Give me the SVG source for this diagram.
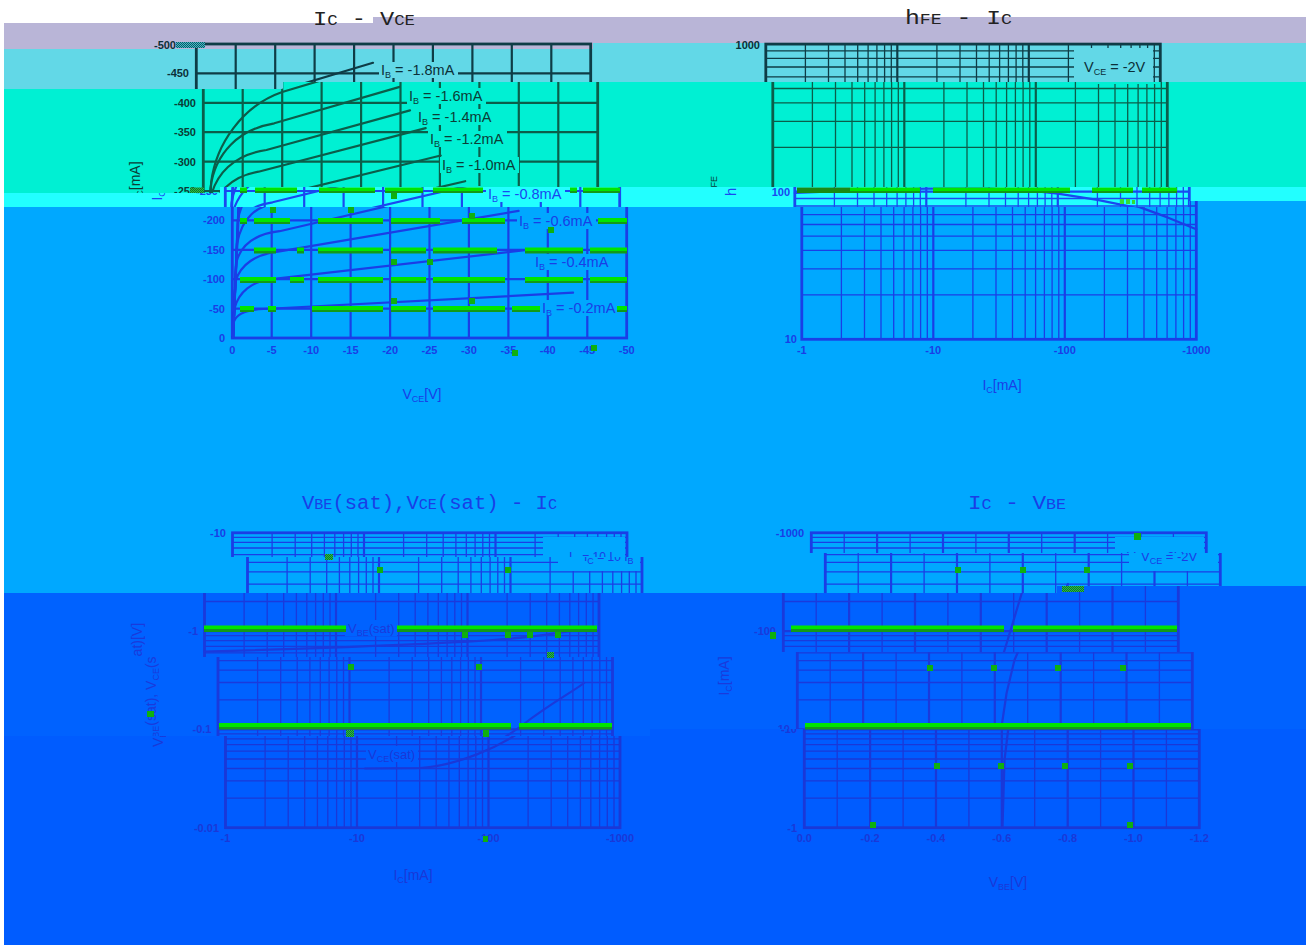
<svg xmlns="http://www.w3.org/2000/svg" width="1306" height="945" viewBox="0 0 1306 945">
<style>
.ln{fill:none;stroke:var(--ln)}
.mi{stroke-width:1.3}
.mj{stroke-width:2.2}
.fr{stroke-width:2.8}
.cv{fill:none;stroke:var(--ln);stroke-width:2.2;stroke-linejoin:round;stroke-linecap:round}
.tk{fill:var(--tx);font-family:'Liberation Sans',Arial,sans-serif;font-size:11px;font-weight:bold}
.lb{fill:var(--tx);font-family:'Liberation Sans',Arial,sans-serif;font-size:14.5px}
.lc{fill:var(--tx);font-family:'Liberation Sans',Arial,sans-serif;font-size:13px}
.ax{fill:var(--tx);font-family:'Liberation Sans',Arial,sans-serif;font-size:14px}
.bg{fill:var(--bg)}
.s{font-size:9px}
.e{text-anchor:end}
.m{text-anchor:middle}
.ttl{font-family:'Liberation Mono','DejaVu Sans Mono',monospace;font-size:20.5px}
.ts{font-size:15px}
.bT{--ln:#0e3c46;--tx:#0c2f38;--bg:#62d8e7}
.bQ{--ln:#0b5e4a;--tx:#0b3d36;--bg:#00f0d3}
.bC{--ln:#1a48f0;--tx:#1a48f0;--bg:#22ffff}
.bB{--ln:#1a3ee6;--tx:#1a3ee6;--bg:#00a8ff}
.bD{--ln:#1a3adc;--tx:#1a3adc;--bg:#0062ff}
.bE{--ln:#1a38d8;--tx:#1a38d8;--bg:#005cff}
.gb{fill:url(#gbar)}
.gs{fill:#0fb00f}
.ck{fill:url(#chk)}
</style>
<defs>
<linearGradient id="gbar" x1="0" y1="0" x2="0" y2="1">
<stop offset="0" stop-color="#00e600"/><stop offset="0.6" stop-color="#00e600"/><stop offset="0.6" stop-color="#139a18"/><stop offset="1" stop-color="#139a18"/>
</linearGradient>
<pattern id="chk" width="2" height="2" patternUnits="userSpaceOnUse"><rect width="2" height="2" fill="#30c830"/><rect width="1" height="1" fill="#0a6a40"/><rect x="1" y="1" width="1" height="1" fill="#0a6a40"/></pattern>
<pattern id="chk2" width="2" height="2" patternUnits="userSpaceOnUse"><rect width="2" height="2" fill="#4ab8c4"/><rect width="1" height="1" fill="#0a5a66"/><rect x="1" y="1" width="1" height="1" fill="#0a5a66"/></pattern>
<clipPath id="cU1"><polygon points="0,0 1306,0 1306,82 283,82 283,89 0,89"/></clipPath>
<clipPath id="cU2"><polygon points="0,89 283,89 283,82 1306,82 1306,187 220,187 220,193 0,193"/></clipPath>
<clipPath id="cU3"><polygon points="0,193 220,193 220,187 1306,187 1306,201 1189,201 1189,207 0,207"/></clipPath>
<clipPath id="cU4"><polygon points="0,207 1189,207 1189,201 1306,201 1306,470 0,470"/></clipPath>
<clipPath id="cLa"><rect x="0" y="470" width="660" height="87"/></clipPath>
<clipPath id="cLb"><rect x="0" y="557" width="660" height="36"/></clipPath>
<clipPath id="cLc"><rect x="0" y="593" width="660" height="64"/></clipPath>
<clipPath id="cLd"><rect x="0" y="657" width="660" height="79"/></clipPath>
<clipPath id="cLe"><rect x="0" y="736" width="660" height="209"/></clipPath>
<clipPath id="cRa"><rect x="660" y="470" width="646" height="83"/></clipPath>
<clipPath id="cRb"><polygon points="660,553 1306,553 1306,586 1057,586 1057,593 660,593"/></clipPath>
<clipPath id="cRc"><polygon points="660,593 1057,593 1057,586 1306,586 1306,652 660,652"/></clipPath>
<clipPath id="cRd"><rect x="660" y="652" width="646" height="77"/></clipPath>
<clipPath id="cRe"><rect x="660" y="729" width="646" height="216"/></clipPath>

<g id="c1">
<path class="ln mj" d="M271.7 44v294M311.2 44v294M350.6 44v294M390.1 44v294M429.5 44v294M468.9 44v294M508.4 44v294M547.8 44v294M587.3 44v294M232.3 308.6h394.4M232.3 279.2h394.4M232.3 249.8h394.4M232.3 220.4h394.4M232.3 191h394.4M232.3 161.6h394.4M232.3 132.2h394.4M232.3 102.8h394.4M232.3 73.4h394.4"/>
<rect class="ln fr" x="232.3" y="44" width="394.4" height="294"/>
<path class="cv" d="M233 338L233.9 321.5C237 313.3 246.5 309.5 263.9 309L573.1 292.7"/>
<path class="cv" d="M233 338L234.7 308C238.6 292.1 252 281 271.7 279.2L533.6 249.2"/>
<path class="cv" d="M233 338L235.5 281.6C240.2 264.5 256 253.9 279.6 251.4L518.6 210.9"/>
<path class="cv" d="M233 338L236.2 262.7C241 243.9 256 233.9 279.6 231.2L494.2 181.2"/>
<path class="cv" d="M233 338L237 243.9C241.8 217.5 256 205.7 279.6 202.3L469.7 155.5"/>
<path class="cv" d="M233 338L237.8 220.4C242.6 193.9 259.9 176.3 287.5 171.7L454.7 128.1"/>
<path class="cv" d="M233 338L238.6 202.8C243.3 173.4 263.9 154.5 295.4 150L439 110.4"/>
<path class="cv" d="M233 338L239.4 188.1C244.1 152.8 267.8 129.3 303.3 123.3L428.7 86.9"/>
<path class="cv" d="M233 338L240.2 182.2C244.9 144 271.7 105.7 311.2 92L409 62.8"/>
<rect class="bg" x="540" y="300" width="79" height="16"/>
<rect class="bg" x="533" y="254" width="79" height="16"/>
<rect class="bg" x="517" y="213" width="79" height="16"/>
<rect class="bg" x="493" y="186" width="79" height="16"/>
<rect class="bg" x="469" y="157" width="79" height="16"/>
<rect class="bg" x="457" y="131" width="79" height="16"/>
<rect class="bg" x="445" y="109" width="79" height="16"/>
<rect class="bg" x="436" y="88" width="79" height="16"/>
<rect class="bg" x="415" y="62" width="79" height="16"/>
<text class="lb" x="542" y="313">I<tspan class="s" dy="3">B</tspan><tspan dy="-3"> = -0.2mA</tspan></text>
<text class="lb" x="535" y="267">I<tspan class="s" dy="3">B</tspan><tspan dy="-3"> = -0.4mA</tspan></text>
<text class="lb" x="519" y="226">I<tspan class="s" dy="3">B</tspan><tspan dy="-3"> = -0.6mA</tspan></text>
<text class="lb" x="495" y="199">I<tspan class="s" dy="3">B</tspan><tspan dy="-3"> = -0.8mA</tspan></text>
<text class="lb" x="471" y="170">I<tspan class="s" dy="3">B</tspan><tspan dy="-3"> = -1.0mA</tspan></text>
<text class="lb" x="459" y="144">I<tspan class="s" dy="3">B</tspan><tspan dy="-3"> = -1.2mA</tspan></text>
<text class="lb" x="447" y="122">I<tspan class="s" dy="3">B</tspan><tspan dy="-3"> = -1.4mA</tspan></text>
<text class="lb" x="438" y="101">I<tspan class="s" dy="3">B</tspan><tspan dy="-3"> = -1.6mA</tspan></text>
<text class="lb" x="417" y="75">I<tspan class="s" dy="3">B</tspan><tspan dy="-3"> = -1.8mA</tspan></text>
<g class="tk e">
<text x="225" y="342">0</text><text x="225" y="312.6">-50</text><text x="225" y="283.2">-100</text><text x="225" y="253.8">-150</text><text x="225" y="224.4">-200</text><text x="225" y="195">-250</text><text x="225" y="165.6">-300</text><text x="225" y="136.2">-350</text><text x="225" y="106.8">-400</text><text x="225" y="77.4">-450</text>
</g>
<g class="tk m">
<text x="232.3" y="354">0</text><text x="271.7" y="354">-5</text><text x="311.2" y="354">-10</text><text x="350.6" y="354">-15</text><text x="390.1" y="354">-20</text><text x="429.5" y="354">-25</text><text x="468.9" y="354">-30</text><text x="508.4" y="354">-35</text><text x="547.8" y="354">-40</text><text x="587.3" y="354">-45</text><text x="626.7" y="354">-50</text>
</g>
<text class="ax m" x="422" y="399">V<tspan class="s" dy="3">CE</tspan><tspan dy="-3">[V]</tspan></text>
<text class="ax m" transform="translate(169,181) rotate(-90)">I<tspan class="s" dy="3">C</tspan><tspan dy="-3">[mA]</tspan></text>
</g>

<g id="c2">
<path class="ln mi" d="M841.4 44.1v295.2M864.5 44.1v295.2M881 44.1v295.2M893.7 44.1v295.2M904.1 44.1v295.2M912.9 44.1v295.2M920.6 44.1v295.2M927.3 44.1v295.2M972.9 44.1v295.2M996 44.1v295.2M1012.5 44.1v295.2M1025.2 44.1v295.2M1035.6 44.1v295.2M1044.4 44.1v295.2M1052.1 44.1v295.2M1058.8 44.1v295.2M1104.4 44.1v295.2M1127.5 44.1v295.2M1144 44.1v295.2M1156.7 44.1v295.2M1167.1 44.1v295.2M1175.9 44.1v295.2M1183.6 44.1v295.2M1190.3 44.1v295.2M801.8 294.9h394.5M801.8 268.9h394.5M801.8 250.4h394.5M801.8 236.1h394.5M801.8 224.5h394.5M801.8 214.6h394.5M801.8 206h394.5M801.8 198.5h394.5M801.8 147.3h394.5M801.8 121.3h394.5M801.8 102.8h394.5M801.8 88.5h394.5M801.8 76.9h394.5M801.8 67h394.5M801.8 58.4h394.5M801.8 50.9h394.5"/>
<path class="ln mj" d="M933.3 44.1v295.2M1064.8 44.1v295.2M801.8 191.7h394.5"/>
<rect class="ln fr" x="801.8" y="44.1" width="394.5" height="295.2"/>
<polyline class="cv" points="801.8,193 864.5,190.4 933.3,188.6 996,188.6 1035.6,190.4 1064.8,193.7 1104.4,199.9 1138.9,206.9 1167.6,217.4 1196.3,229.3"/>
<rect class="bg" x="1110" y="48" width="79" height="36"/>
<text class="lb" x="1120" y="71.5">V<tspan class="s" dy="3">CE</tspan><tspan dy="-3"> = -2V</tspan></text>
<g class="tk e"><text x="797" y="343.3">10</text><text x="797" y="195.7">100</text></g>
<g class="tk m"><text x="801.8" y="354">-1</text><text x="933.3" y="354">-10</text><text x="1064.8" y="354">-100</text><text x="1196.3" y="354">-1000</text></g>
<text class="ax m" x="1002" y="390">I<tspan class="s" dy="3">C</tspan><tspan dy="-3">[mA]</tspan></text>
<text class="ax m" transform="translate(743,186) rotate(-90)" style="font-size:15px">h<tspan class="s" dy="3">FE</tspan></text>
</g>

<g id="c3">
<path class="ln mi" d="M265.1 532.8v294.9M288.2 532.8v294.9M304.7 532.8v294.9M317.4 532.8v294.9M327.8 532.8v294.9M336.6 532.8v294.9M344.3 532.8v294.9M351 532.8v294.9M396.6 532.8v294.9M419.7 532.8v294.9M436.2 532.8v294.9M448.9 532.8v294.9M459.3 532.8v294.9M468.1 532.8v294.9M475.8 532.8v294.9M482.5 532.8v294.9M528.1 532.8v294.9M551.2 532.8v294.9M567.7 532.8v294.9M580.4 532.8v294.9M590.8 532.8v294.9M599.6 532.8v294.9M607.3 532.8v294.9M614 532.8v294.9M225.5 798.1h394.5M225.5 780.8h394.5M225.5 768.5h394.5M225.5 759h394.5M225.5 751.2h394.5M225.5 744.6h394.5M225.5 738.9h394.5M225.5 733.9h394.5M225.5 699.8h394.5M225.5 682.5h394.5M225.5 670.2h394.5M225.5 660.7h394.5M225.5 652.9h394.5M225.5 646.3h394.5M225.5 640.6h394.5M225.5 635.6h394.5M225.5 601.5h394.5M225.5 584.2h394.5M225.5 571.9h394.5M225.5 562.4h394.5M225.5 554.6h394.5M225.5 548h394.5M225.5 542.3h394.5M225.5 537.3h394.5"/>
<path class="ln mj" d="M357 532.8v294.9M488.5 532.8v294.9M225.5 729.4h394.5M225.5 631.1h394.5"/>
<rect class="ln fr" x="225.5" y="532.8" width="394.5" height="294.9"/>
<path class="cv" d="M225.5 651.5C300 649.5 420 645.5 488.5 641.7S570 634 590.8 631.1"/>
<path class="cv" d="M365 768.5L420 768C455 766 500 748 530 725S580 692 591.5 683"/>
<rect class="bg" x="366" y="620" width="52" height="16"/>
<text class="lc" x="369" y="633">V<tspan class="s" dy="3">BE</tspan><tspan dy="-3">(sat)</tspan></text>
<rect class="bg" x="366" y="746" width="52" height="16"/>
<text class="lc" x="368" y="759">V<tspan class="s" dy="3">CE</tspan><tspan dy="-3">(sat)</tspan></text>
<rect class="bg" x="536" y="537" width="82" height="34"/>
<text class="lc" x="562" y="561" style="font-size:12px">I<tspan class="s" dy="3">C</tspan><tspan dy="-3"> = 10 I</tspan><tspan class="s" dy="3">B</tspan></text>
<g class="tk e"><text x="219" y="536.8">-10</text><text x="219" y="635.1">-1</text><text x="219" y="733.4">-0.1</text><text x="219" y="831.7">-0.01</text></g>
<g class="tk m"><text x="225.5" y="842">-1</text><text x="357" y="842">-10</text><text x="488.5" y="842">-100</text><text x="620" y="842">-1000</text></g>
<text class="ax m" x="413" y="880">I<tspan class="s" dy="3">C</tspan><tspan dy="-3">[mA]</tspan></text>
<text class="ax m" transform="translate(163,685) rotate(-90)">V<tspan class="s" dy="3">BE</tspan><tspan dy="-3">(sat), V</tspan><tspan class="s" dy="3">CE</tspan><tspan dy="-3">(sat)[V]</tspan></text>
</g>

<g id="c4">
<path class="ln mi" d="M837.2 532.8v294.9M903.1 532.8v294.9M968.9 532.8v294.9M1034.7 532.8v294.9M1100.6 532.8v294.9M1166.4 532.8v294.9M804.3 798.1h395M804.3 780.8h395M804.3 768.5h395M804.3 759h395M804.3 751.2h395M804.3 744.6h395M804.3 738.9h395M804.3 733.9h395M804.3 699.8h395M804.3 682.5h395M804.3 670.2h395M804.3 660.7h395M804.3 652.9h395M804.3 646.3h395M804.3 640.6h395M804.3 635.6h395M804.3 601.5h395M804.3 584.2h395M804.3 571.9h395M804.3 562.4h395M804.3 554.6h395M804.3 548h395M804.3 542.3h395M804.3 537.3h395"/>
<path class="ln mj" d="M870.1 532.8v294.9M936 532.8v294.9M1001.8 532.8v294.9M1067.7 532.8v294.9M1133.5 532.8v294.9M804.3 729.4h395M804.3 631.1h395"/>
<rect class="ln fr" x="804.3" y="532.8" width="395" height="294.9"/>
<polyline class="cv" points="1002.5,827.7 1004.5,760 1008.5,727 1013.6,693 1021.5,660 1025,652 1042.8,593 1047,584"/>
<rect class="bg" x="1108" y="537" width="89" height="34"/>
<text class="lc" x="1120" y="561">V<tspan class="s" dy="3">CE</tspan><tspan dy="-3"> = -2V</tspan></text>
<g class="tk e"><text x="797" y="536.8">-1000</text><text x="797" y="635.1">-100</text><text x="797" y="733.4">-10</text><text x="797" y="831.7">-1</text></g>
<g class="tk m"><text x="804.3" y="842">0.0</text><text x="870.1" y="842">-0.2</text><text x="936" y="842">-0.4</text><text x="1001.8" y="842">-0.6</text><text x="1067.7" y="842">-0.8</text><text x="1133.5" y="842">-1.0</text><text x="1199.3" y="842">-1.2</text></g>
<text class="ax m" x="1008" y="887">V<tspan class="s" dy="3">BE</tspan><tspan dy="-3">[V]</tspan></text>
<text class="ax m" transform="translate(736,676) rotate(-90)">I<tspan class="s" dy="3">C</tspan><tspan dy="-3">[mA]</tspan></text>
</g>
</defs>

<g id="background">
<rect width="1306" height="945" fill="#ffffff"/>
<polygon points="4,23 373,23 373,17 1306,17 1306,43 593,43 593,49 4,49" fill="#b9b5d7"/>
<polygon points="4,49 593,49 593,43 1306,43 1306,82 283,82 283,89 4,89" fill="#62d8e7"/>
<polygon points="4,89 283,89 283,82 1306,82 1306,187 220,187 220,193 4,193" fill="#00f0d3"/>
<polygon points="4,193 220,193 220,187 1306,187 1306,201 1189,201 1189,207 4,207" fill="#22ffff"/>
<polygon points="4,207 1189,207 1189,201 1306,201 1306,586 1057,586 1057,593 4,593" fill="#00a8ff"/>
<polygon points="4,593 1057,593 1057,586 1306,586 1306,729 650,729 650,736 4,736" fill="#0062ff"/>
<polygon points="4,736 650,736 650,729 1306,729 1306,945 4,945" fill="#005cff"/>
</g>

<g id="titles">
<text class="ttl" x="313" y="25" textLength="102" lengthAdjust="spacingAndGlyphs" fill="#222222">I<tspan class="ts">C</tspan> - V<tspan class="ts">CE</tspan></text>
<text class="ttl" x="905" y="24" textLength="107" lengthAdjust="spacingAndGlyphs" fill="#222222">h<tspan class="ts">FE</tspan> - I<tspan class="ts">C</tspan></text>
<text class="ttl" x="302" y="509" textLength="255" lengthAdjust="spacingAndGlyphs" fill="#1a3ee6">V<tspan class="ts">BE</tspan>(sat),V<tspan class="ts">CE</tspan>(sat) - I<tspan class="ts">C</tspan></text>
<text class="ttl" x="968" y="509" textLength="98" lengthAdjust="spacingAndGlyphs" fill="#1a3ee6">I<tspan class="ts">C</tspan> - V<tspan class="ts">BE</tspan></text>
</g>

<g id="chart-ic-vce">
<g clip-path="url(#cU1)"><use href="#c1" x="-36" class="bT"/></g>
<g clip-path="url(#cU2)"><use href="#c1" x="-29" class="bQ"/></g>
<g clip-path="url(#cU3)"><use href="#c1" x="-7" class="bC"/></g>
<g clip-path="url(#cU4)"><use href="#c1" class="bB"/></g>
<text x="176" y="49" class="tk e" style="fill:#0c2f38">-500</text>
<rect x="176" y="42" width="29" height="6" fill="url(#chk2)"/>
</g>

<g id="chart-hfe-ic">
<g clip-path="url(#cU1)"><use href="#c2" x="-36" class="bT"/></g>
<g clip-path="url(#cU2)"><use href="#c2" x="-29" class="bQ"/></g>
<g clip-path="url(#cU3)"><use href="#c2" x="-7" class="bC"/></g>
<g clip-path="url(#cU4)"><use href="#c2" class="bB"/></g>
<text x="760" y="49" class="tk e" style="fill:#0c2f38">1000</text>
</g>

<g id="chart-vsat-ic">
<g clip-path="url(#cLa)"><use href="#c3" x="7" class="bB"/></g>
<g clip-path="url(#cLb)"><use href="#c3" x="22" class="bB"/></g>
<g clip-path="url(#cLc)"><use href="#c3" x="-21" class="bD"/></g>
<g clip-path="url(#cLd)"><use href="#c3" x="-7.5" class="bD"/></g>
<g clip-path="url(#cLe)"><use href="#c3" class="bE"/></g>
</g>

<g id="chart-ic-vbe">
<g clip-path="url(#cRa)"><use href="#c4" x="7" class="bB"/></g>
<g clip-path="url(#cRb)"><use href="#c4" x="21" class="bB"/></g>
<g clip-path="url(#cRc)"><use href="#c4" x="-21" class="bD"/></g>
<g clip-path="url(#cRd)"><use href="#c4" x="-7" class="bD"/></g>
<g clip-path="url(#cRe)"><use href="#c4" class="bE"/></g>
</g>

<g id="artifacts">
<rect class="ck" x="190" y="187.5" width="14" height="5.5"/>
<rect class="gb" x="240" y="187.5" width="7" height="5.5"/><rect class="gb" x="255" y="187.5" width="42" height="5.5"/><rect class="gb" x="319" y="187.5" width="56" height="5.5"/><rect class="gb" x="385" y="187.5" width="38" height="5.5"/><rect class="gb" x="433" y="187.5" width="50" height="5.5"/><rect class="gb" x="570" y="187.5" width="7" height="5.5"/><rect class="gb" x="583" y="187.5" width="37" height="5.5"/>
<rect class="gb" x="240" y="218" width="7" height="6"/><rect class="gb" x="254" y="218" width="36" height="6"/><rect class="gb" x="318" y="218" width="65" height="6"/><rect class="gb" x="391" y="218" width="49" height="6"/><rect class="gb" x="462" y="218" width="43" height="6"/><rect class="gb" x="598" y="218" width="29" height="6"/>
<rect class="gb" x="254" y="247.5" width="22" height="6"/><rect class="gb" x="297" y="247.5" width="7" height="6"/><rect class="gb" x="318" y="247.5" width="65" height="6"/><rect class="gb" x="391" y="247.5" width="35" height="6"/><rect class="gb" x="433" y="247.5" width="64" height="6"/><rect class="gb" x="525" y="247.5" width="58" height="6"/><rect class="gb" x="590" y="247.5" width="37" height="6"/>
<rect class="gb" x="240" y="277" width="36" height="6"/><rect class="gb" x="290" y="277" width="14" height="6"/><rect class="gb" x="318" y="277" width="65" height="6"/><rect class="gb" x="391" y="277" width="35" height="6"/><rect class="gb" x="433" y="277" width="72" height="6"/><rect class="gb" x="525" y="277" width="58" height="6"/><rect class="gb" x="590" y="277" width="37" height="6"/>
<rect class="gb" x="240" y="306" width="14" height="6"/><rect class="gb" x="268" y="306" width="8" height="6"/><rect class="gb" x="312" y="306" width="71" height="6"/><rect class="gb" x="391" y="306" width="35" height="6"/><rect class="gb" x="433" y="306" width="72" height="6"/><rect class="gb" x="512" y="306" width="28" height="6"/><rect class="gb" x="617" y="306" width="10" height="6"/>
<rect class="gs" x="270" y="207" width="6" height="6"/><rect class="gs" x="348" y="207" width="6" height="6"/><rect class="gs" x="391" y="259" width="6" height="6"/><rect class="gs" x="427" y="259" width="6" height="6"/><rect class="gs" x="469" y="213" width="6" height="6"/><rect class="gs" x="469" y="298" width="6" height="6"/><rect class="gs" x="391" y="298" width="6" height="6"/><rect class="gs" x="548" y="227" width="6" height="6"/><rect class="gs" x="512" y="350" width="6" height="6"/><rect class="gs" x="591" y="345" width="6" height="6"/><rect class="gs" x="391" y="193" width="6" height="6"/>
<rect x="797" y="187.5" width="53" height="5.5" fill="#1a8a14"/>
<rect class="gb" x="850" y="187.5" width="70" height="5.5"/><rect class="gb" x="933" y="187.5" width="137" height="5.5"/><rect class="gb" x="1092" y="187.5" width="41" height="5.5"/><rect class="gb" x="1142" y="187.5" width="35" height="5.5"/>
<rect x="1120" y="199" width="4" height="5" fill="#33dd33"/><rect x="1126" y="199" width="4" height="5" fill="#33dd33"/><rect x="1132" y="200" width="3" height="4" fill="#33dd33"/>
<rect class="gb" x="204" y="625.5" width="142" height="6.5"/><rect class="gb" x="397" y="625.5" width="200" height="6.5"/>
<rect class="gb" x="219" y="723" width="292" height="6.5"/><rect class="gb" x="519" y="723" width="93" height="6.5"/>
<rect class="gs" x="462" y="632" width="6" height="6"/><rect class="gs" x="505" y="632" width="6" height="6"/><rect class="gs" x="527" y="632" width="6" height="6"/><rect class="gs" x="555" y="632" width="6" height="6"/><rect class="gs" x="377" y="567" width="6" height="6"/><rect class="gs" x="505" y="567" width="6" height="6"/><rect class="gs" x="348" y="664" width="6" height="6"/><rect class="gs" x="476" y="664" width="6" height="6"/><rect class="gs" x="483" y="730" width="6" height="7"/><rect class="gs" x="147" y="711" width="7" height="6"/><rect class="gs" x="483" y="836" width="5" height="6"/>
<rect class="ck" x="325" y="554" width="8" height="6"/><rect class="ck" x="346" y="730" width="8" height="7"/><rect class="ck" x="547" y="652" width="7" height="6"/>
<rect class="gb" x="791" y="625.5" width="213" height="6.5"/><rect class="gb" x="1013" y="625.5" width="164" height="6.5"/>
<rect class="gb" x="805" y="723" width="386" height="6.5"/>
<rect class="gs" x="770" y="632" width="6" height="7"/><rect class="gs" x="1134" y="533" width="7" height="7"/><rect class="gs" x="955" y="567" width="6" height="6"/><rect class="gs" x="1020" y="567" width="6" height="6"/><rect class="gs" x="1084" y="567" width="6" height="6"/><rect class="gs" x="927" y="665" width="6" height="6"/><rect class="gs" x="991" y="665" width="6" height="6"/><rect class="gs" x="1055" y="665" width="6" height="6"/><rect class="gs" x="1120" y="665" width="6" height="6"/><rect class="gs" x="934" y="763" width="6" height="6"/><rect class="gs" x="998" y="763" width="6" height="6"/><rect class="gs" x="1062" y="763" width="6" height="6"/><rect class="gs" x="1127" y="763" width="6" height="6"/><rect class="gs" x="870" y="822" width="6" height="6"/><rect class="gs" x="1127" y="822" width="6" height="6"/>
<rect class="ck" x="1062" y="586" width="22" height="6"/>
</g>
</svg>
